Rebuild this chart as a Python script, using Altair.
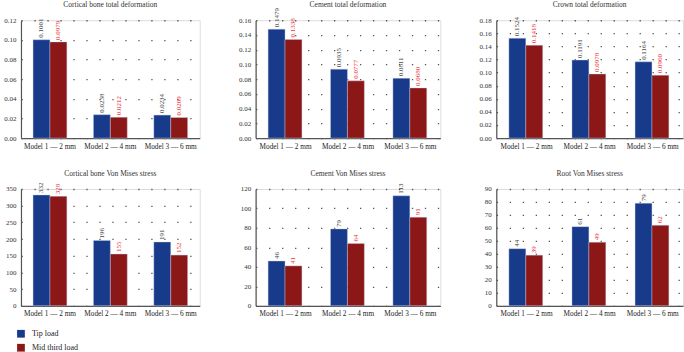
import altair as alt
import pandas as pd

models = ["Model 1 — 2 mm", "Model 2 — 4 mm", "Model 3 — 6 mm"]
loads = ["Tip load", "Mid third load"]

titles = [
    "Cortical bone total deformation",
    "Cement total deformation",
    "Crown total deformation",
    "Cortical bone Von Mises stress",
    "Cement Von Mises stress",
    "Root Von Mises stress",
]
tip_values = [
    [0.1001, 0.0238, 0.0234],
    [0.1479, 0.0935, 0.0811],
    [0.1524, 0.1191, 0.1164],
    [332, 196, 191],
    [46, 79, 113],
    [44, 61, 79],
]
mid_values = [
    [0.0979, 0.0212, 0.0209],
    [0.1338, 0.0777, 0.0680],
    [0.1418, 0.0978, 0.0960],
    [328, 155, 152],
    [41, 64, 91],
    [39, 49, 62],
]
y_ticks = [
    [0.00, 0.02, 0.04, 0.06, 0.08, 0.10, 0.12],
    [0.00, 0.02, 0.04, 0.06, 0.08, 0.10, 0.12, 0.14, 0.16],
    [0.00, 0.02, 0.04, 0.06, 0.08, 0.10, 0.12, 0.14, 0.16, 0.18],
    [0, 50, 100, 150, 200, 250, 300, 350],
    [0, 20, 40, 60, 80, 100, 120],
    [0, 10, 20, 30, 40, 50, 60, 70, 80, 90],
]
tick_formats = [".2f", ".2f", ".2f", "d", "d", "d"]
label_formats = [".4f", ".4f", ".4f", ".0f", ".0f", ".0f"]

FONT = "Liberation Serif"
BLUE = "#173A8B"
RED = "#8C1717"
TEXT_COLORS = {"Tip load": "#444444", "Mid third load": "#E8333A"}

legend = alt.Legend(
    title=None, orient="none", legendX=-4, legendY=310, symbolType="square",
    symbolSize=60, symbolStrokeWidth=0, labelFont=FONT, labelFontSize=8,
    labelColor="#222", rowPadding=6, labelOffset=7,
)


def panel(i, width, height):
    rows = []
    for m, t, md in zip(models, tip_values[i], mid_values[i]):
        rows.append({"model": m, "load": loads[0], "value": t,
                     "label": format(t, label_formats[i])})
        rows.append({"model": m, "load": loads[1], "value": md,
                     "label": format(md, label_formats[i])})
    df = pd.DataFrame(rows)
    ticks = y_ticks[i]
    x = alt.X("model:N", sort=models, title=None,
              scale=alt.Scale(paddingInner=0.44, paddingOuter=0.2),
              axis=alt.Axis(labelAngle=0, labelFont=FONT, labelFontSize=7.3,
                            labelColor="#222", ticks=False, domainColor="#555",
                            domainWidth=1.2, labelPadding=4, grid=False))
    y = alt.Y("value:Q", title=None,
              scale=alt.Scale(domain=[ticks[0], ticks[-1]], nice=False),
              axis=alt.Axis(values=ticks, format=tick_formats[i], labelFont=FONT,
                            labelFontSize=7, labelColor="#333", ticks=False,
                            labelOverlap=False,
                            domainColor="#555", domainWidth=1.2, labelPadding=5,
                            grid=True, gridDash=[1.3, 11.7], gridColor="#555",
                            gridWidth=1.3))
    xo = alt.XOffset("load:N", sort=loads)
    base = alt.Chart(df).encode(x=x, xOffset=xo, y=y)
    bars = base.mark_bar(stroke="#c8d0e8", strokeWidth=0.4).encode(
        color=alt.Color("load:N", sort=loads,
                        scale=alt.Scale(domain=loads, range=[BLUE, RED]),
                        legend=legend),
    )
    texts = []
    for ld in loads:
        texts.append(
            base.mark_text(angle=270, align="left", baseline="middle", dx=2,
                           font=FONT, fontSize=7, color=TEXT_COLORS[ld])
            .encode(text="label:N")
            .transform_filter(alt.datum.load == ld)
        )
    title = alt.Chart(pd.DataFrame({"t": [titles[i]]})).mark_text(
        font=FONT, fontSize=7.5, color="#333", align="center", baseline="alphabetic"
    ).encode(text="t:N", x=alt.value(width / 2), y=alt.value(-13))
    return alt.layer(bars, *texts, title).properties(width=width, height=height)


panels = [
    panel(0, 179, 118), panel(1, 185, 118), panel(2, 187, 118),
    panel(3, 179, 117), panel(4, 185, 117), panel(5, 187, 117),
]

chart = alt.concat(
    *panels, columns=3, spacing=alt.RowColnumber(row=51, column=56), bounds="flush"
).properties(
    padding={"left": 3, "top": 0, "right": 0, "bottom": 0}
).configure_view(strokeWidth=0).configure(font=FONT)

chart.save("out.html", embed_options={"renderer": "svg", "actions": False})
